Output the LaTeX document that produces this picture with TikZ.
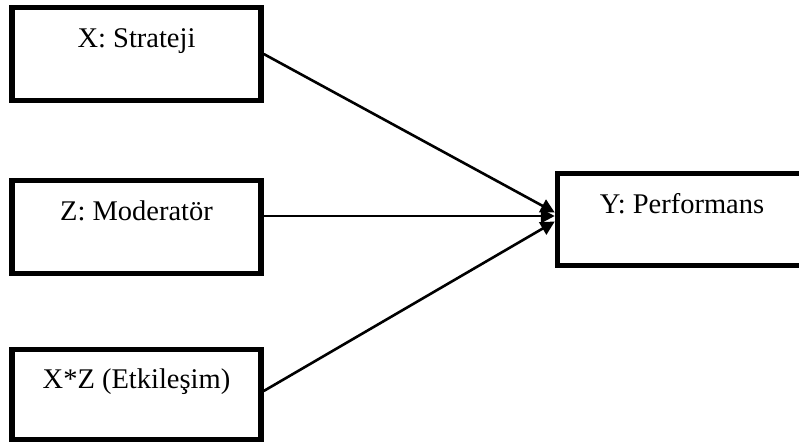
\documentclass[tikz,border=0pt]{standalone}
\usepackage{fontspec}
\setmainfont{Liberation Serif}
\usetikzlibrary{arrows.meta}

\tikzset{
  box/.style={draw, line width=5.5pt, minimum width=249pt, inner sep=0pt},
  lbl/.style={anchor=base, inner sep=0pt, font=\fontsize{28.5}{34}\selectfont},
  link/.style={line width=2.6pt, -{Triangle[length=14pt,width=14pt]}}
}

\begin{document}
\begin{tikzpicture}[x=1pt, y=-1pt]
  \clip (0,0) rectangle (799,444);

  % predictor boxes
  \node[box, minimum height=93pt] (x)  at (136.5, 54)    {};
  \node[box, minimum height=93pt] (z)  at (136.5, 227)   {};
  \node[box, minimum height=90pt] (xz) at (136.5, 394.5) {};
  % outcome box
  \node[box, minimum height=92pt] (y)  at (682, 219.5)   {};

  % box titles
  \node[lbl] (xt)  at ([yshift=-43pt]x.north)  {X: Strateji};
  \node[lbl] (zt)  at ([yshift=-43pt]z.north)  {Z: Moderatör};
  \node[lbl] (xzt) at ([yshift=-42pt]xz.north) {X*Z (Etkileşim)};
  \node[lbl] (yt)  at ([yshift=-43pt]y.north)  {Y: Performans};

  % paths into the outcome
  \draw[link] (x.east) -- ([yshift=7pt]y.west);
  \draw[link] ([yshift=11pt]z.east) -- ([yshift=3.5pt]y.west);
  \draw[link] ([yshift=3.5pt]xz.east) -- ([yshift=-2pt]y.west);
\end{tikzpicture}
\end{document}
